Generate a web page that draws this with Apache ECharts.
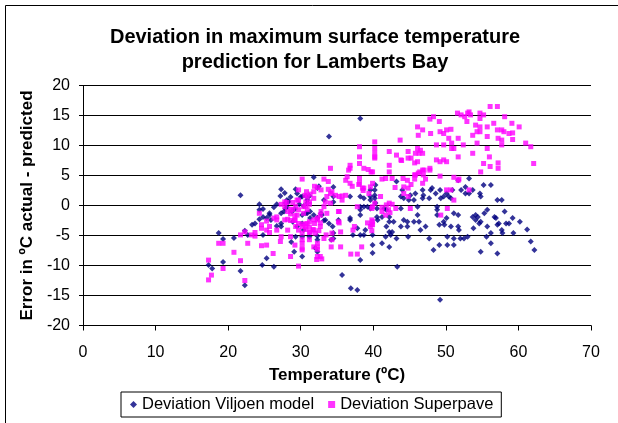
<!DOCTYPE html>
<html>
<head>
<meta charset="utf-8">
<script src="https://cdn.jsdelivr.net/npm/echarts@6/dist/echarts.min.js"></script>
<style>
html,body{margin:0;padding:0;background:#fff;}
#chart{width:618px;height:423px;}
</style>
</head>
<body>
<div id="chart"></div>
<script>
// ---- Data ----
const titleLines = ['Deviation in maximum surface temperature', 'prediction for Lamberts Bay'];
const xAxisName = 'Temperature (ºC)';
const yAxisName = 'Error in ºC actual - predicted';
const seriesNames = ['Deviation Viljoen model', 'Deviation Superpave'];
const xTicks = {min: 0, max: 70, interval: 10};
const yTicks = {min: -20, max: 20, interval: 5};

// [temperature ºC, deviation ºC]
const viljoen = [
[18.7,-4.6],[19.3,-5.6],[20.8,-5.4],[17.3,-9.9],[17.8,-10.5],[19.3,-9.4],[21.7,-10.9],[22.3,-13.3],[21.7,1.7],[22.3,-4.2],
[22.7,-4.9],[23.3,-3.2],[23.7,-3.0],[24.3,-2.3],[24.3,0.2],[24.3,-0.7],[24.8,-0.6],[25.3,-2.1],[25.7,-1.3],[25.7,-1.6],
[24.8,-1.9],[25.3,-8.8],[24.7,-9.9],[26.3,-10.2],[24.8,-4.9],[26.3,-0.3],[26.7,0.2],[27.3,2.7],[27.8,2.1],[27.3,-3.5],
[27.3,-3.0],[28.3,0.7],[25.9,-2.4],[27.2,1.6],[26.7,-3.4],[27.3,-1.3],[27.7,-1.0],[27.9,-0.5],[27.9,0.4],[28.1,0.9],
[28.3,0.6],[28.6,1.4],[29.3,2.7],[29.5,2.0],[30.0,1.4],[30.2,1.5],[28.9,-2.7],[29.5,-3.5],[30.2,-3.0],[30.4,-4.1],
[29.3,-5.2],[30.2,-5.2],[29.1,-7.7],[30.2,-8.5],[30.7,1.6],[30.9,0.9],[31.2,1.6],[31.8,4.7],[32.3,2.9],[32.5,3.2],
[30.9,-1.3],[31.3,-2.1],[31.8,-1.6],[32.3,-2.1],[32.8,-1.3],[33.2,0.9],[33.4,-2.4],[31.2,-5.2],[32.0,-7.1],[32.3,-7.7],
[32.3,-5.7],[32.3,-5.1],[33.9,11.5],[34.5,3.1],[34.5,1.5],[34.5,0.6],[34.4,-3.5],[34.5,-4.6],[34.5,-5.5],[35.2,-2.4],
[35.7,-11.6],[36.8,1.5],[36.8,-2.1],[36.8,-2.4],[36.9,-13.8],[37.8,-14.1],[37.2,-4.9],[38.2,14.5],[38.2,1.5],[38.2,-0.2],
[38.2,-1.6],[38.2,-4.9],[38.2,-9.1],[37.8,-3.8],[38.7,1.2],[38.7,-0.2],[39.2,-0.2],[39.6,1.5],[39.9,-4.9],[39.9,-6.6],
[39.9,-7.9],[28.1,-0.3],[28.8,-1.0],[29.2,-0.6],[29.8,0.2],[30.4,-0.1],[30.9,0.4],[30.7,-1.3],[30.2,-1.6],[31.3,-1.0],
[32.3,-2.1],[32.9,-1.6],[33.2,-2.5],[33.9,-3.0],[28.7,-6.1],[34.2,-5.7],[38.2,-0.7],[38.7,-4.9],[38.9,-4.1],[41.2,-6.3],
[42.2,-6.9],
[39.6,2.6],[39.6,0.9],[40.3,3.4],[40.2,2.6],[40.2,1.7],[40.2,1.2],[40.3,0.4],[39.6,-0.5],[40.5,-0.5],[40.5,-1.9],
[40.6,-2.4],[41.2,-1.9],[41.5,-0.5],[41.8,-0.7],[41.8,-3.5],[42.2,-1.9],[42.2,-2.7],[42.2,-4.4],[41.7,-5.2],[42.4,-4.9],
[42.6,-4.4],[42.8,-2.7],[43.2,4.0],[43.2,-5.5],[43.3,-10.2],[43.8,1.5],[43.8,-0.5],[43.8,-3.5],[44.0,2.6],[44.2,1.2],
[44.2,-2.4],[44.7,-2.7],[44.7,-3.5],[44.8,-5.2],[44.9,0.9],[45.1,1.7],[45.6,0.9],[45.6,-2.7],[45.8,2.0],[46.1,-0.2],
[46.1,-1.6],[46.3,-2.7],[46.5,-4.1],[46.8,2.6],[46.8,1.2],[46.9,1.7],[47.2,-3.5],[47.7,1.2],[47.7,-5.5],[47.9,2.6],
[48.1,2.9],[48.3,-7.4],[48.6,2.0],[48.8,-0.2],[48.8,-0.7],[48.8,-1.6],[49.1,-3.2],[49.1,-6.6],[49.2,-15.7],[49.2,2.6],
[49.3,1.2],[49.7,1.5],[49.7,-2.7],[49.8,-3.2],[50.1,2.0],[50.1,-2.1],[50.2,-5.2],[50.2,-6.6],[50.4,1.5],[50.7,1.2],
[50.7,-3.5],[50.9,2.6],[51.1,-1.3],[51.1,-5.5],[51.1,-6.6],[51.7,4.2],[51.7,-1.6],[51.7,-3.5],[51.8,-4.1],[52.0,-5.5],
[52.1,2.6],[52.5,-5.5],[52.7,3.1],[52.7,2.0],[53.0,-5.2],[53.2,4.5],[53.2,2.0],[53.7,2.6],[53.7,-1.9],[53.8,-3.8],
[54.1,-1.6],[54.1,-2.4],[54.4,-1.9],[54.6,-3.0],[54.7,2.0],[54.8,1.5],[54.8,-2.7],[54.8,-7.7],[55.2,3.4],[55.3,-1.3],
[55.6,-5.2],[55.7,-0.7],[55.7,-3.5],[56.2,3.4],[56.2,-4.6],[56.2,-6.3],[56.7,-1.9],[56.9,-2.1],[57.1,0.9],[57.1,-3.2],
[57.1,-8.0],[57.3,-3.0],[57.7,0.9],[57.7,-4.1],[57.8,-4.6],[58.1,-1.0],[58.3,-3.0],[58.7,-3.0],[59.2,-2.1],[59.3,-4.6],
[60.2,-2.7],[61.2,-4.0],[61.7,-6.0],[62.2,-7.4]
];

const superpave = [
[17.3,-9.1],[17.7,-11.6],[17.3,-12.4],[19.3,-10.5],[18.7,-6.3],[19.3,-6.3],[20.8,-7.8],[21.7,-9.2],[22.3,-12.5],[21.7,-4.9],
[22.7,-6.3],[22.3,-4.4],[23.7,-4.5],[23.2,-4.9],[23.7,-5.1],[24.3,-1.3],[24.6,-3.2],[24.6,-3.8],[24.6,-6.7],[25.3,-6.6],
[25.3,-2.6],[25.3,-4.1],[25.7,-3.5],[25.7,-4.5],[26.2,-8.0],[26.3,-2.1],[26.7,-1.9],[26.7,-2.4],[26.7,-4.1],[27.3,0.2],
[27.8,0.6],[27.8,-0.2],[28.2,-1.0],[27.2,-6.0],[27.3,-5.2],[28.2,-2.3],[27.8,-2.4],[28.2,-4.1],[28.6,-8.5],
[29.7,2.6],[30.2,4.4],[30.8,2.3],[30.9,1.5],[31.2,0.6],[31.8,2.3],[31.8,1.2],[29.7,0.9],[29.7,-0.7],[30.4,-0.2],
[30.4,-1.3],[30.9,-0.7],[29.2,-2.4],[29.3,-3.5],[29.7,-4.1],[30.2,-4.6],[30.7,-3.5],[30.9,-3.0],[31.2,-2.7],[31.8,-2.4],
[31.3,-4.4],[31.8,-4.1],[29.2,-6.6],[30.2,-6.3],[30.2,-7.1],[31.2,-5.7],[31.8,-6.9],[32.3,-6.3],[32.3,-6.9],[32.7,-8.5],
[32.3,-8.5],[32.2,-9.0],[29.7,-10.1],[32.3,-2.1],[32.7,-1.6],[32.8,-1.0],[33.2,-0.2],[33.4,0.6],[33.6,-1.3],[34.1,0.4],
[33.6,1.5],[34.1,2.0],[34.3,2.3],[32.8,2.6],[33.2,4.4],[34.1,6.2],[34.8,1.7],[34.3,-4.6],[34.3,-5.7],[33.5,-4.9],
[33.2,-5.5],[35.2,-1.0],[35.2,-2.7],[35.7,0.9],[36.2,1.7],[36.4,4.8],[36.6,5.9],[36.8,6.7],[36.8,6.2],[36.8,3.7],
[35.5,-4.4],[35.5,-6.9],[36.9,-8.1],[37.8,-8.1],[38.1,9.8],[38.1,8.1],[38.1,7.0],[38.1,4.5],[38.1,3.7],[38.7,6.2],
[39.3,6.0],[39.7,5.6],[38.5,2.9],[38.7,2.9],[39.4,2.0],[37.2,-4.1],[37.4,-3.5],[38.4,-6.9],[39.6,-3.5],[39.9,-2.7],
[33.8,4.0],[36.2,4.2],[31.9,3.2],[32.3,3.0],[33.8,2.7],[35.3,1.5],[35.7,1.6],[37.1,3.2],[38.0,3.5],[38.6,2.5],
[30.6,1.7],[31.3,1.9],[29.5,0.9],[28.9,0.5],[29.3,-0.1],[30.7,-0.1],[31.2,0.2],[30.7,0.6],[28.1,0.5],[28.6,-0.6],
[28.9,-0.7],[28.6,-1.4],[29.2,-1.7],[28.6,-2.5],[29.2,-2.5],[29.5,-1.6],[29.7,-3.0],[30.3,-3.1],[30.2,-3.5],[30.7,-3.1],
[30.7,-4.0],[31.2,-3.6],[31.2,-4.5],[31.7,-4.0],[31.9,-3.0],[32.3,-2.4],[32.7,-2.9],[32.7,-3.5],[32.0,-4.6],[32.5,-4.2],
[28.6,-5.2],[30.2,-5.7],[30.2,-7.4],[32.3,-7.3],[32.9,-8.9],[34.2,-6.9],[35.3,-1.0],[35.3,-2.9],[39.2,-2.9],[39.8,-2.4],
[39.8,-3.2],[39.8,-4.2],[37.8,-0.2],[39.8,-0.5],[41.2,-0.3],[41.2,-1.0],[42.1,-0.7],[42.6,0.2],
[40.2,10.6],[40.2,9.5],[40.2,8.7],[40.2,8.1],[40.2,7.9],[39.9,5.6],[39.9,3.7],[39.6,3.1],[39.9,-0.2],[39.9,-3.2],
[40.2,0.4],[41.0,1.5],[41.2,4.4],[41.7,4.5],[42.2,9.0],[42.2,6.7],[42.2,5.6],[42.2,0.4],[42.3,-1.2],[41.7,-1.6],
[41.8,0.1],[42.6,4.5],[43.1,-0.5],[43.2,8.4],[43.7,10.9],[43.8,7.6],[44.1,4.5],[44.2,3.1],[44.7,4.2],[44.8,2.9],
[44.8,1.5],[44.8,9.0],[45.2,7.9],[45.1,-0.5],[45.7,7.1],[45.7,5.1],[46.1,9.5],[46.1,13.1],[46.2,11.7],[46.3,8.7],
[46.5,9.2],[46.8,12.6],[46.8,5.9],[46.9,5.1],[47.2,4.4],[47.8,14.4],[47.9,12.0],[47.8,6.2],[48.3,14.8],[48.7,10.1],
[48.7,7.6],[49.1,14.0],[49.2,12.3],[49.2,7.3],[49.3,-1.6],[49.7,10.1],[49.7,12.0],[49.7,7.6],[50.1,12.6],[50.1,7.3],
[50.1,2.6],[50.2,-0.5],[50.4,11.2],[50.7,12.7],[50.8,10.4],[50.8,9.5],[51.1,9.5],[50.7,2.6],[51.1,0.9],[51.1,4.7],
[51.6,15.4],[51.7,11.2],[51.7,8.1],[51.7,4.2],[52.1,15.1],[52.4,10.1],[52.6,14.8],[52.9,14.0],[53.0,15.4],[53.2,15.6],
[53.2,2.6],[53.4,15.1],[53.7,11.7],[53.7,8.7],[54.1,13.4],[54.3,12.3],[54.3,10.4],[54.7,15.4],[54.7,14.5],[54.7,13.1],
[54.7,12.3],[54.8,5.6],[55.2,15.1],[55.2,7.0],[55.7,13.1],[55.7,11.5],[55.7,9.5],[56.0,8.1],[56.1,16.5],[56.1,6.5],
[56.6,13.7],[57.1,16.5],[57.1,12.6],[57.2,11.2],[57.2,7.1],[57.2,6.2],[57.7,12.6],[57.7,10.9],[57.7,10.1],[58.0,12.3],
[58.1,14.8],[58.7,12.0],[59.1,13.7],[59.2,12.1],[59.2,11.0],[60.1,13.1],[61.0,10.4],[61.7,9.8],[62.1,7.0],
[44.8,7.9],[43.9,7.5],[45.8,8.7],[46.1,7.3],[46.8,8.7],[46.2,5.4],[46.4,5.6],[45.8,5.1],[47.0,5.9],[47.8,5.9],
[49.2,4.9],[51.8,4.4],[45.7,4.4],[46.8,3.7],[43.0,3.0],[44.2,2.0],[45.2,3.5]
];

// ---- Chart ----
const FONT = '"Liberation Sans", Arial, Helvetica, sans-serif';
const chart = echarts.init(document.getElementById('chart'), null, {renderer: 'canvas'});
chart.setOption({
  animation: false,
  backgroundColor: '#ffffff',
  textStyle: {fontFamily: FONT, color: '#000'},
  graphic: [
    {type: 'rect', silent: true, z: -10,
     shape: {x: 5.5, y: 5.5, width: 800, height: 800},
     style: {fill: null, stroke: '#000', lineWidth: 1}},
    {type: 'text', silent: true, x: 315, y: 37,
     style: {text: titleLines[0], font: 'bold 20px ' + FONT, fill: '#000', align: 'center', verticalAlign: 'middle'}},
    {type: 'text', silent: true, x: 315, y: 62,
     style: {text: titleLines[1], font: 'bold 20px ' + FONT, fill: '#000', align: 'center', verticalAlign: 'middle'}}
  ],
  grid: {left: 83, top: 85.5, width: 508, height: 240, containLabel: false},
  legend: {
    left: 121, top: 392,
    padding: [4, 8, 4, 9],
    itemGap: 14, itemWidth: 7, itemHeight: 7,
    borderColor: '#000', borderWidth: 1, backgroundColor: '#fff',
    textStyle: {fontSize: 16.5, fontFamily: FONT, color: '#000'},
    data: [
      {name: seriesNames[0], icon: 'diamond'},
      {name: seriesNames[1], icon: 'rect'}
    ]
  },
  xAxis: {
    type: 'value', min: xTicks.min, max: xTicks.max, interval: xTicks.interval,
    name: xAxisName, nameLocation: 'middle', nameGap: 41,
    nameTextStyle: {fontWeight: 'bold', fontSize: 17, fontFamily: FONT, color: '#000'},
    axisLine: {onZero: false, lineStyle: {color: '#000', width: 1}},
    axisTick: {show: true, inside: false, length: 5, lineStyle: {color: '#000'}},
    axisLabel: {fontSize: 16, margin: 19, color: '#000', fontFamily: FONT},
    splitLine: {show: false}
  },
  yAxis: {
    type: 'value', min: yTicks.min, max: yTicks.max, interval: yTicks.interval,
    name: yAxisName, nameLocation: 'middle', nameGap: 45, nameRotate: 90,
    nameTextStyle: {fontWeight: 'bold', fontSize: 17, fontFamily: FONT, color: '#000'},
    axisLine: {show: true, onZero: false, lineStyle: {color: '#000', width: 1}},
    axisTick: {show: true, inside: false, length: 4, lineStyle: {color: '#000'}},
    axisLabel: {fontSize: 16, margin: 13, color: '#000', fontFamily: FONT},
    splitLine: {show: true, lineStyle: {color: '#000', width: 1}}
  },
  series: [
    {
      name: seriesNames[0], type: 'scatter', data: viljoen,
      symbol: 'diamond', symbolSize: 6,
      itemStyle: {color: '#000080'}
    },
    {
      name: seriesNames[1], type: 'scatter', data: superpave,
      symbol: 'rect', symbolSize: 5,
      itemStyle: {color: '#FF00FF'}
    }
  ]
});
</script>
</body>
</html>
